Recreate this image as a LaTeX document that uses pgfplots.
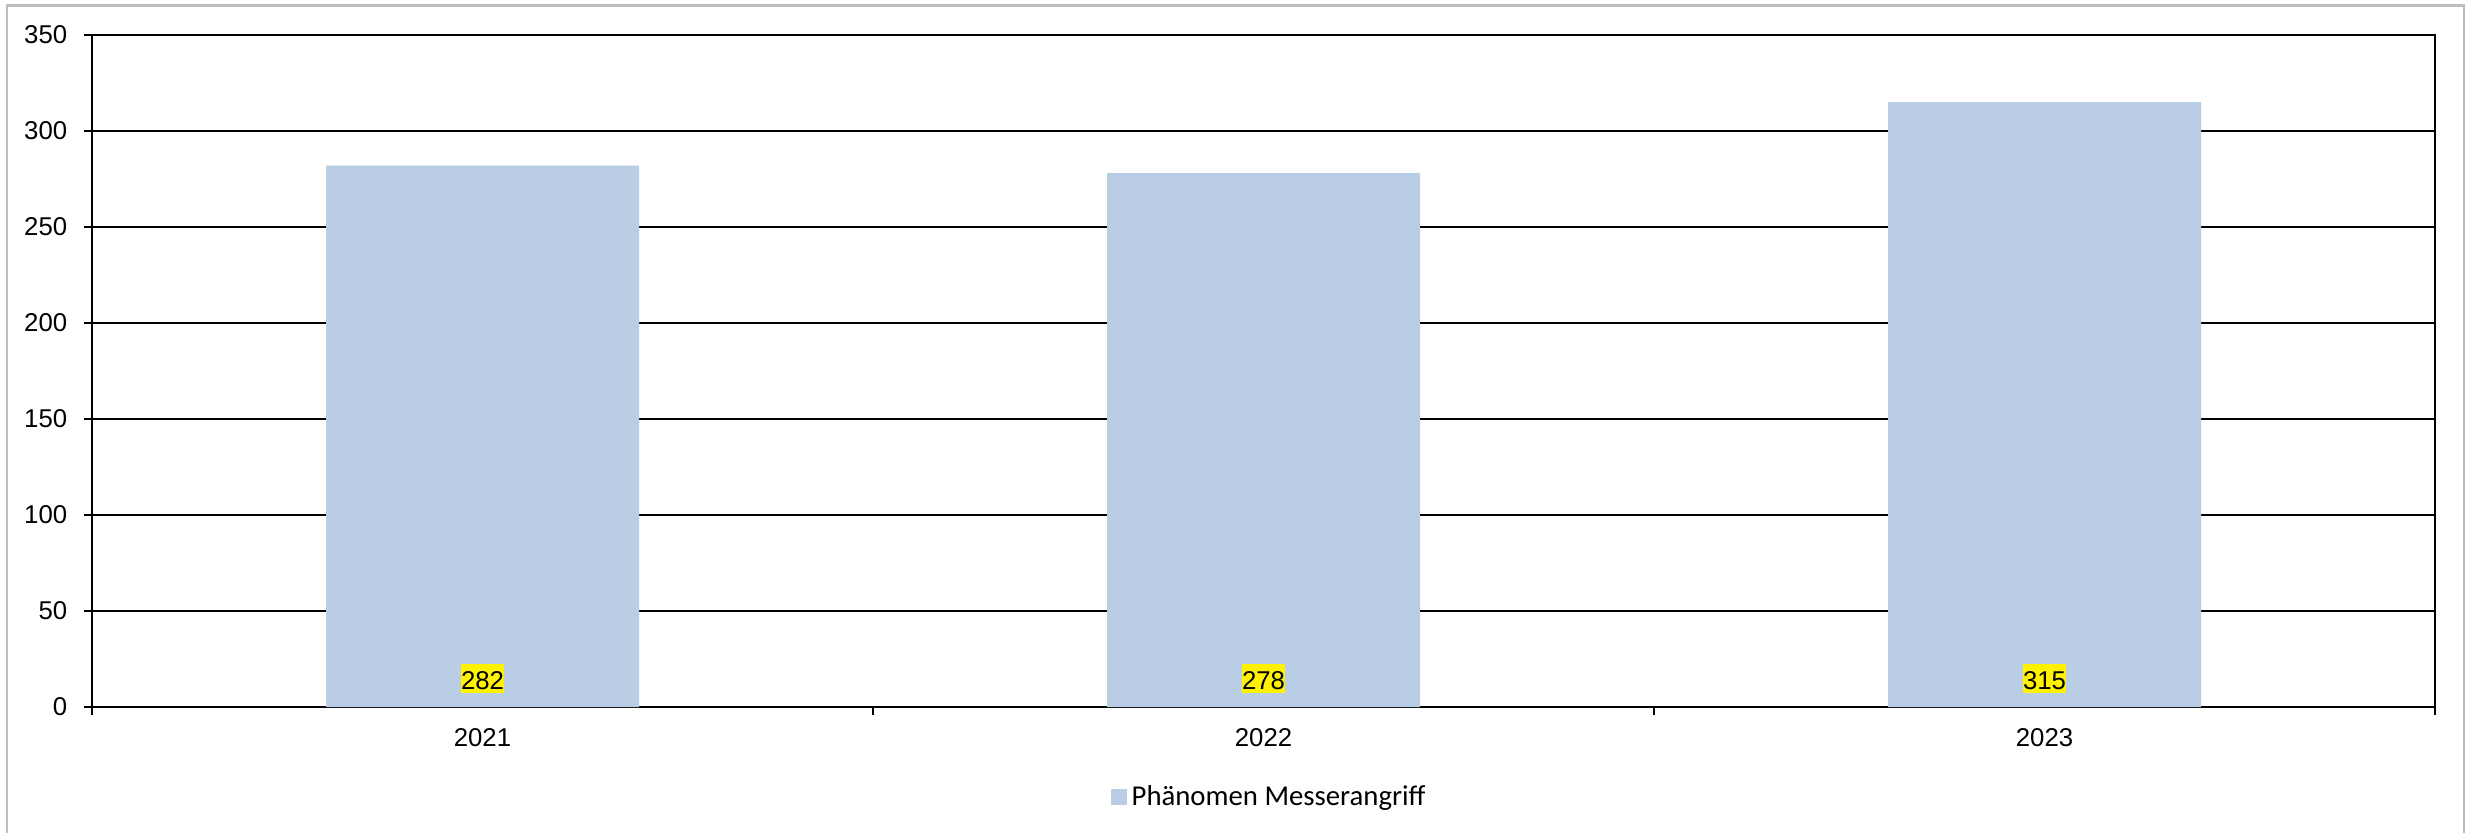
\documentclass[border=0pt]{standalone}
\usepackage{fontspec}
\setmainfont{Liberation Sans}
\newfontfamily\carlito{Carlito}
\usepackage{pgfplots}
\usepackage{pgfplotstable}
\pgfplotsset{compat=1.18}

\definecolor{barblue}{RGB}{185,205,229}
\definecolor{framegray}{RGB}{190,190,190}

% Phaenomen Messerangriff, Faelle pro Jahr
\pgfplotstableread{
pos year count
0   2021 282
1   2022 278
2   2023 315
}\messerdata

\begin{document}
\begin{tikzpicture}
\useasboundingbox (0,0) rectangle (990.4pt,332.8pt);
\draw[framegray, line width=1pt] (2.7pt,-5pt) rectangle (985.6pt,330.5pt);
\begin{axis}[
    at={(36.8pt,50pt)}, anchor=south west,
    scale only axis, width=937.2pt, height=268.8pt,
    xmin=-0.5, xmax=2.5, ymin=0, ymax=350,
    xtick={-0.5,0.5,1.5,2.5}, xticklabels={},
    extra x ticks={0,1,2}, extra x tick labels={2021,2022,2023},
    extra x tick style={major tick length=0pt, grid=none},
    ytick={0,50,...,350},
    tick align=outside, tick pos=left, major tick length=3.2pt,
    ymajorgrids, major grid style={black, line width=0.8pt},
    axis line style={line width=1pt},
    every tick/.style={black, line width=0.8pt},
    ticklabel style={font=\fontsize{10.3}{12}\selectfont},
    xticklabel style={yshift=-5.2pt},
    yticklabel style={xshift=-3.2pt},
    /pgf/number format/assume math mode=true,
    legend style={at={(0.503,-0.134)}, anchor=center, draw=none,
        font=\carlito\fontsize{11.5}{13}\selectfont},
]
\addplot[ybar, bar width=125.2pt, fill=barblue, draw=none,
    legend image code/.code={\fill[barblue] (0pt,-3.2pt) rectangle (6.4pt,3.2pt);},
    nodes near coords,
    visualization depends on={\thisrow{count} \as \rawy},
    every node near coord/.append style={anchor=center, fill=yellow,
        inner xsep=0pt, inner ysep=0pt, text height=10.1pt, text depth=1.5pt,
        font=\fontsize{10.3}{12}\selectfont, yshift={11.4-0.768*\rawy}},
] table[x=pos, y=count] {\messerdata};
\addlegendentry{Phänomen Messerangriff}
\end{axis}
\end{tikzpicture}
\end{document}
